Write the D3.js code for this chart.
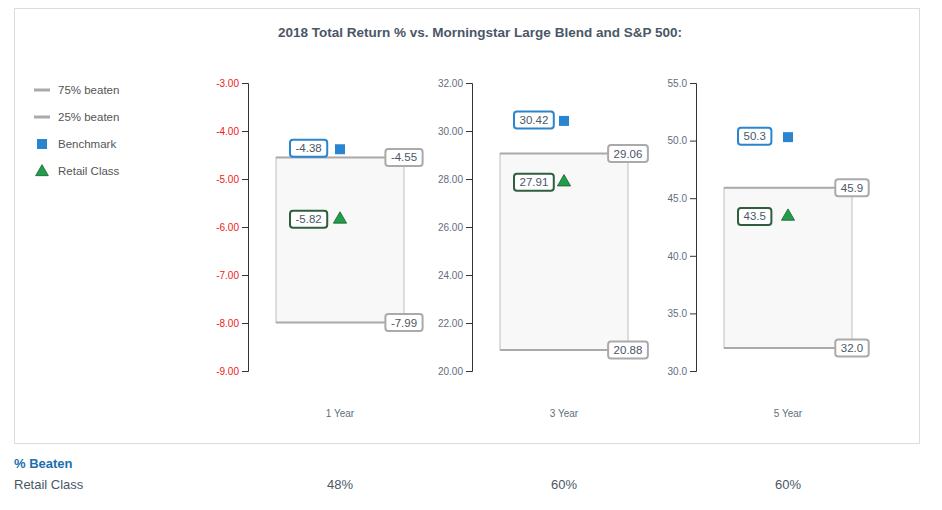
<!DOCTYPE html>
<html>
<head>
<meta charset="utf-8">
<script src="https://cdn.jsdelivr.net/npm/d3@7"></script>
<style>
  body { margin: 0; background: #fff; font-family: "Liberation Sans", Arial, sans-serif; }
  svg text { font-family: "Liberation Sans", Arial, sans-serif; }
</style>
</head>
<body>
<svg id="chart" width="942" height="510"></svg>
<script>
// chart data
const periods = ['1 Year', '3 Year', '5 Year'];
const top75 = [-4.55, 29.06, 45.9];
const bottom25 = [-7.99, 20.88, 32.0];
const benchmark = [-4.38, 30.42, 50.3];
const retail = [-5.82, 27.91, 43.5];
const axisMin = [-9, 20, 30];
const axisMax = [-3, 32, 55];
const tickStep = [1, 2, 5];
const tickDecimals = [2, 2, 1];
const pctBeaten = ['48%', '60%', '60%'];
const legendItems = ['75% beaten', '25% beaten', 'Benchmark', 'Retail Class'];

const svg = d3.select('#chart');
const textColor = '#4a5766';
const blue = '#2a85d0';
const green = '#1f9e4b';

// plain hyphen for negatives, like the original
const locale = d3.formatLocale({ decimal: '.', thousands: ',', grouping: [3], currency: ['$', ''], minus: '-' });

// outer frame
svg.append('rect')
  .attr('x', 14.5).attr('y', 8.5)
  .attr('width', 905).attr('height', 435)
  .attr('fill', 'none')
  .attr('stroke', '#dcdcdc');

svg.append('text')
  .attr('x', 480).attr('y', 37)
  .attr('text-anchor', 'middle')
  .style('font-size', '13.5px')
  .style('font-weight', 'bold')
  .style('fill', textColor)
  .text('2018 Total Return % vs. Morningstar Large Blend and S&P 500:');

// legend
const legend = svg.append('g');
legendItems.forEach((name, i) => {
  const y = 90 + i * 27;
  if (i < 2) {
    legend.append('line')
      .attr('x1', 34).attr('x2', 50).attr('y1', y).attr('y2', y)
      .attr('stroke', '#aaa').attr('stroke-width', 3);
  } else if (i === 2) {
    legend.append('rect')
      .attr('x', 37).attr('y', y - 5).attr('width', 10).attr('height', 10)
      .attr('fill', blue);
  } else {
    legend.append('path')
      .attr('d', d3.symbol(d3.symbolTriangle, 70)())
      .attr('transform', `translate(42,${y + 1})`)
      .attr('fill', green).attr('stroke', '#1d5e30').attr('stroke-width', 0.8);
  }
  legend.append('text')
    .attr('x', 58).attr('y', y + 4)
    .style('font-size', '11.5px')
    .style('fill', '#555')
    .text(name);
});

const x = d3.scaleBand().domain(periods).range([228, 900]);

function addLabel(g, cx, cy, text, border, anchor) {
  const lg = g.append('g');
  const rect = lg.append('rect');
  const t = lg.append('text')
    .attr('y', cy + 4)
    .style('font-size', '11.5px')
    .style('fill', textColor)
    .text(text);
  const w = t.node().getComputedTextLength() + 11;
  const left = anchor === 'center' ? cx - w / 2 : cx;
  t.attr('x', left + 5.5);
  rect.attr('x', left).attr('y', cy - 8.5)
    .attr('width', w).attr('height', 17)
    .attr('rx', 3)
    .attr('fill', '#fff')
    .attr('stroke', border)
    .attr('stroke-width', 2);
}

periods.forEach((p, i) => {
  const cx = x(p) + x.bandwidth() / 2;
  const g = svg.append('g');
  const y = d3.scaleLinear().domain([axisMin[i], axisMax[i]]).range([371, 83]);
  const ticks = d3.range(axisMin[i], axisMax[i] + tickStep[i] / 2, tickStep[i]);
  const fmt = locale.format(`.${tickDecimals[i]}f`);

  const ax = g.append('g')
    .attr('transform', `translate(${cx - 92},0)`)
    .call(d3.axisLeft(y).tickValues(ticks).tickSizeOuter(0).tickSize(6).tickPadding(3)
      .tickFormat(fmt));
  ax.select('.domain').attr('stroke', '#333');
  ax.selectAll('.tick line').attr('stroke', '#333');
  ax.selectAll('.tick text')
    .style('font-size', '10px')
    .style('fill', i === 0 ? '#f01818' : '#5f6e80');

  // range box
  const x0 = cx - 64, x1 = cx + 64;
  g.append('rect')
    .attr('x', x0).attr('y', y(top75[i]))
    .attr('width', x1 - x0).attr('height', y(bottom25[i]) - y(top75[i]))
    .attr('fill', '#f8f8f8')
    .attr('stroke', '#bdbdbd').attr('stroke-width', 1);
  [top75[i], bottom25[i]].forEach(v => {
    g.append('line')
      .attr('x1', x0).attr('x2', x1).attr('y1', y(v)).attr('y2', y(v))
      .attr('stroke', '#aaa').attr('stroke-width', 2);
  });

  addLabel(g, x1, y(top75[i]), fmt(top75[i]), '#aaa', 'center');
  addLabel(g, x1, y(bottom25[i]), fmt(bottom25[i]), '#aaa', 'center');

  // benchmark
  g.append('rect')
    .attr('x', cx - 5).attr('y', y(benchmark[i]) - 5)
    .attr('width', 10).attr('height', 10)
    .attr('fill', blue);
  addLabel(g, cx - 50, y(benchmark[i]) - 1, fmt(benchmark[i]), blue, 'left');

  // retail class
  g.append('path')
    .attr('d', d3.symbol(d3.symbolTriangle, 75)())
    .attr('transform', `translate(${cx},${y(retail[i]) + 1})`)
    .attr('fill', green).attr('stroke', '#1d5e30').attr('stroke-width', 0.8);
  addLabel(g, cx - 50, y(retail[i]) + 1, fmt(retail[i]), '#2e5e3e', 'left');

  g.append('text')
    .attr('x', cx).attr('y', 417)
    .attr('text-anchor', 'middle')
    .style('font-size', '10px')
    .style('fill', '#5f6e80')
    .text(p);

  svg.append('text')
    .attr('x', cx).attr('y', 489)
    .attr('text-anchor', 'middle')
    .style('font-size', '13px')
    .style('fill', textColor)
    .text(pctBeaten[i]);
});

svg.append('text')
  .attr('x', 14).attr('y', 468)
  .style('font-size', '13px')
  .style('font-weight', 'bold')
  .style('fill', '#1a6fb0')
  .text('% Beaten');

svg.append('text')
  .attr('x', 14).attr('y', 489)
  .style('font-size', '13px')
  .style('fill', textColor)
  .text('Retail Class');
</script>
</body>
</html>
